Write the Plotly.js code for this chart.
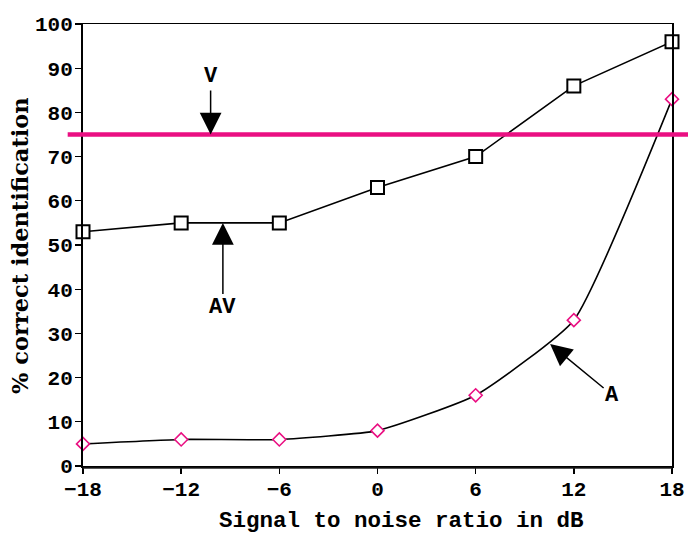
<!DOCTYPE html>
<html>
<head>
<meta charset="utf-8">
<script src="https://cdn.plot.ly/plotly-3.0.1.min.js"></script>
<style>html,body{margin:0;padding:0;background:#fff;}#chart{width:688px;height:535px;}</style>
</head>
<body>
<div id="chart"></div>
<script>
const snr = [-18, -12, -6, 0, 6, 12, 18];
const avScores = [53, 55, 55, 63, 70, 86, 96];
const aScores = [5, 6, 6, 8, 16, 33, 83];
const vScore = 75;
const xTicks = [-18, -12, -6, 0, 6, 12, 18];
const yTicks = [0, 10, 20, 30, 40, 50, 60, 70, 80, 90, 100];
const xTitle = 'Signal to noise ratio in dB';
const yTitle = '% correct identification';

const monoFam = '"Liberation Mono", "Courier New", monospace';
const tickFont = {family: monoFam, size: 21, color: '#000', weight: 'bold'};
const pink = '#ea0f82';

const traces = [
  {
    x: snr, y: aScores, mode: 'lines+markers', type: 'scatter', cliponaxis: false,
    line: {color: '#000', width: 1.6, shape: 'spline', smoothing: 0.45},
    marker: {symbol: 'diamond', size: 10, color: '#fff', line: {color: pink, width: 1.6}},
    hoverinfo: 'skip', showlegend: false
  },
  {
    x: snr, y: avScores, mode: 'lines+markers', type: 'scatter', cliponaxis: false,
    line: {color: '#000', width: 1.6},
    marker: {symbol: 'square', size: 13, color: '#fff', line: {color: '#000', width: 2}},
    hoverinfo: 'skip', showlegend: false
  }
];

const layout = {
  width: 688, height: 535,
  margin: {l: 83, r: 16, t: 24, b: 69},
  paper_bgcolor: '#fff', plot_bgcolor: '#fff',
  xaxis: {
    range: [-18, 18], tickvals: xTicks, ticktext: xTicks.map(v => v < 0 ? '\u2212' + Math.abs(v) : String(v)),
    showgrid: false, zeroline: false, showline: true, linecolor: '#000', linewidth: 1.5, mirror: true,
    ticks: 'outside', ticklen: 6, tickwidth: 1.5, tickcolor: '#000',
    tickfont: tickFont, ticklabelstandoff: -3
  },
  yaxis: {
    range: [0, 100], tickvals: yTicks,
    showgrid: false, zeroline: false, showline: true, linecolor: '#000', linewidth: 2, mirror: true,
    ticks: 'outside', ticklen: 6, tickwidth: 1.2, tickcolor: '#000',
    tickfont: tickFont, ticklabelstandoff: -2
  },
  shapes: [
    {type: 'line', xref: 'paper', yref: 'y', x0: -0.026, x1: 1.03, y0: vScore, y1: vScore, line: {color: pink, width: 4.5}},
    {type: 'line', xref: 'paper', yref: 'paper', x0: 0, x1: 1, y0: -0.005, y1: -0.005, line: {color: '#222', width: 1.2}}
  ],
  annotations: [
    {x: 0.54, y: -0.1245, xref: 'paper', yref: 'paper', xanchor: 'center', yanchor: 'middle', text: xTitle, showarrow: false, font: {family: monoFam, size: 22.5, color: '#000', weight: 'bold'}},
    {x: -0.107, y: 0.5, xref: 'paper', yref: 'paper', xanchor: 'center', yanchor: 'middle', textangle: -90, text: yTitle, showarrow: false, font: {family: '"DejaVu Serif", serif', size: 22.5, color: '#000', weight: 'bold'}},
    {x: -10.2, y: vScore, xref: 'x', yref: 'y', text: 'V', showarrow: true, arrowhead: 2, arrowsize: 2.9, arrowwidth: 1.5, arrowcolor: '#000', ax: 0, ay: -58, font: {family: monoFam, size: 22, color: '#000', weight: 'bold'}},
    {x: -9.45, y: 55, xref: 'x', yref: 'y', text: 'AV', showarrow: true, arrowhead: 2, arrowsize: 2.9, arrowwidth: 1.5, arrowcolor: '#000', ax: 0, ay: 85, font: {family: monoFam, size: 22, color: '#000', weight: 'bold'}},
    {x: 10.55, y: 27.6, xref: 'x', yref: 'y', text: 'A', showarrow: true, arrowhead: 2, arrowsize: 2.9, arrowwidth: 1.5, arrowcolor: '#000', ax: 62, ay: 51, font: {family: monoFam, size: 22, color: '#000', weight: 'bold'}}
  ]
};

Plotly.newPlot('chart', traces, layout, {staticPlot: true, displayModeBar: false});
</script>
</body>
</html>
